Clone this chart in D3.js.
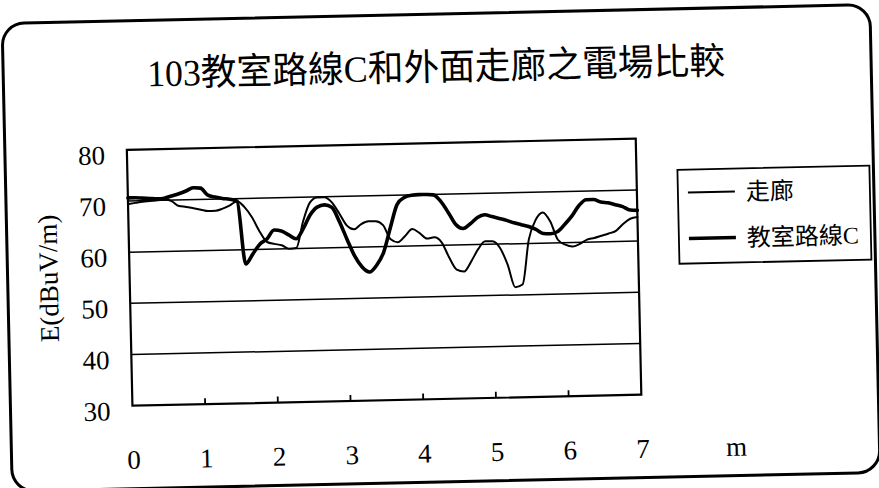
<!DOCTYPE html>
<html>
<head>
<meta charset="utf-8">
<script src="https://cdn.jsdelivr.net/npm/d3@7/dist/d3.min.js"></script>
<style>
  html, body { margin: 0; padding: 0; background: #fff; }
  svg { display: block; }
</style>
</head>
<body>
<svg id="chart" width="879" height="488"></svg>
<script>
// Distance along the measuring path (m)
const distance = [
  0.0, 0.1, 0.2, 0.3, 0.4, 0.5, 0.6, 0.7, 0.8, 0.9,
  1.0, 1.1, 1.2, 1.3, 1.4, 1.5, 1.6, 1.7, 1.8, 1.9,
  2.0, 2.1, 2.2, 2.3, 2.4, 2.5, 2.6, 2.7, 2.8, 2.9,
  3.0, 3.1, 3.2, 3.3, 3.4, 3.5, 3.6, 3.7, 3.8, 3.9,
  4.0, 4.1, 4.2, 4.3, 4.4, 4.5, 4.6, 4.7, 4.8, 4.9,
  5.0, 5.1, 5.2, 5.3, 5.4, 5.5, 5.6, 5.7, 5.8, 5.9,
  6.0, 6.1, 6.2, 6.3, 6.4, 6.5, 6.6, 6.7, 6.8, 6.9,
  7.0
];

// Field strength in the corridor (dBuV/m)
const corridorE = [
  69.4, 69.6, 69.8, 69.9, 70.0, 70.2, 69.8, 68.8, 68.6, 68.3,
  68.0, 67.7, 67.7, 68.1, 68.7, 69.5, 68.3, 66.3, 63.5, 61.4,
  61.0, 60.7, 60.0, 60.1, 65.2, 68.9, 69.9, 69.9, 68.9, 66.7,
  64.3, 63.5, 64.5, 65.0, 65.0, 64.2, 61.4, 60.8, 62.0, 63.3,
  62.5, 61.4, 61.6, 60.6, 57.6, 55.2, 54.8, 56.7, 59.1, 60.6,
  60.6, 59.3, 56.0, 51.5, 52.0, 60.8, 64.6, 66.0, 64.2, 60.6,
  59.6, 59.2, 59.7, 60.5, 60.8, 61.2, 61.6, 62.1, 63.4, 64.4,
  64.7
];

// Field strength along classroom route C (dBuV/m)
const routeCE = [
  70.6, 70.6, 70.5, 70.4, 70.3, 70.4, 70.8, 71.2, 71.7, 72.3,
  72.2, 70.8, 70.4, 70.1, 69.9, 69.5, 57.2, 59.1, 61.0, 62.0,
  63.7, 63.5, 62.7, 61.9, 63.8, 66.5, 68.0, 68.4, 67.9, 65.1,
  61.6, 58.3, 56.1, 55.1, 56.4, 58.9, 63.7, 68.2, 69.5, 69.9,
  70.0, 70.0, 69.9, 68.6, 66.4, 64.0, 63.2, 64.1, 65.3, 65.8,
  65.4, 65.0, 64.6, 64.1, 63.7, 63.3, 62.7, 61.9, 61.8, 62.2,
  63.6, 65.2, 67.2, 68.3, 68.3, 67.8, 67.6, 67.2, 66.8, 66.1,
  66.0
];

const seriesNames = ["走廊", "教室路線C"];
const seriesWidths = [2, 3.6];
const yTicks = [30, 40, 50, 60, 70, 80];
const xTickValues = [0, 1, 2, 3, 4, 5, 6, 7];
const xTickLabels = ["0", "1", "2", "3", "4", "5", "6", "7"];
const xUnit = "m";
const yTitle = "E(dBuV/m)";
const title = "103教室路線C和外面走廊之電場比較";

const serif = "'Liberation Serif', 'Times New Roman', 'Noto Sans CJK TC', serif";
const cjk = "'Liberation Serif', 'Noto Sans CJK TC', sans-serif";

const svg = d3.select("#chart");
// whole sheet sits slightly tilted
const root = svg.append("g").attr("transform", "rotate(-1.25 440 245)");

// outer rounded frame
root.append("rect")
  .attr("x", 7).attr("y", 14).attr("width", 868).attr("height", 468)
  .attr("rx", 22).attr("ry", 22)
  .attr("fill", "none").attr("stroke", "#000").attr("stroke-width", 3);

// title
root.append("text")
  .attr("x", 440).attr("y", 80)
  .attr("text-anchor", "middle")
  .attr("font-family", cjk).attr("font-size", 37)
  .attr("textLength", 578).attr("lengthAdjust", "spacingAndGlyphs")
  .attr("fill", "#000")
  .text(title);

const plot = { left: 129, right: 638, top: 143, bottom: 399 };

const x = d3.scaleLinear().domain([0, 7]).range([plot.left, plot.right]);
const y = d3.scaleLinear().domain([30, 80]).range([plot.bottom, plot.top]);

// horizontal gridlines
root.append("g")
  .selectAll("line")
  .data(yTicks.filter(v => v > 30 && v < 80))
  .join("line")
  .attr("x1", plot.left).attr("x2", plot.right)
  .attr("y1", d => y(d)).attr("y2", d => y(d))
  .attr("stroke", "#000").attr("stroke-width", 1.5);

// plot frame
root.append("rect")
  .attr("x", plot.left).attr("y", plot.top)
  .attr("width", plot.right - plot.left).attr("height", plot.bottom - plot.top)
  .attr("fill", "none").attr("stroke", "#000").attr("stroke-width", 2.2);

// y axis labels
const yAxis = d3.axisLeft(y).tickValues(yTicks).tickSize(0).tickPadding(22);
const gy = root.append("g").attr("transform", `translate(${plot.left},5)`).call(yAxis);
gy.select(".domain").remove();
gy.selectAll("text")
  .attr("font-family", serif).attr("font-size", 27).attr("fill", "#000");

// x axis: small inward ticks and labels
root.append("g")
  .selectAll("line")
  .data(xTickValues.filter(v => v > 0 && v < 7))
  .join("line")
  .attr("x1", d => x(d)).attr("x2", d => x(d))
  .attr("y1", plot.bottom).attr("y2", plot.bottom - 6)
  .attr("stroke", "#000").attr("stroke-width", 1.8);

const xAxis = d3.axisBottom(x).tickValues(xTickValues)
  .tickFormat((d, i) => xTickLabels[i]).tickSize(0).tickPadding(44);
const gx = root.append("g").attr("transform", `translate(0,${plot.bottom})`).call(xAxis);
gx.select(".domain").remove();
gx.selectAll("text")
  .attr("font-family", serif).attr("font-size", 27).attr("fill", "#000");

root.append("text")
  .attr("x", x(7) + 94).attr("y", plot.bottom + 44)
  .attr("dy", "0.71em")
  .attr("text-anchor", "middle")
  .attr("font-family", serif).attr("font-size", 27).attr("fill", "#000")
  .text(xUnit);

// y axis title
root.append("text")
  .attr("transform", "translate(57,270) rotate(-90)")
  .attr("text-anchor", "middle")
  .attr("font-family", serif).attr("font-size", 27).attr("fill", "#000")
  .text(yTitle);

// series lines
const line = d3.line()
  .x((d, i) => x(distance[i]))
  .y(d => y(d))
  .curve(d3.curveMonotoneX);

const seriesData = [corridorE, routeCE];
root.append("g")
  .selectAll("path")
  .data(seriesData)
  .join("path")
  .attr("d", d => line(d))
  .attr("fill", "none")
  .attr("stroke", "#000")
  .attr("stroke-width", (d, i) => seriesWidths[i])
  .attr("stroke-linejoin", "round")
  .attr("stroke-linecap", "round");

// legend
const legend = root.append("g");
legend.append("rect")
  .attr("x", 679).attr("y", 175).attr("width", 192).attr("height", 94)
  .attr("fill", "#fff").attr("stroke", "#000").attr("stroke-width", 1.8);

const legendRows = legend.selectAll("g.row")
  .data(seriesNames)
  .join("g")
  .attr("class", "row")
  .attr("transform", (d, i) => `translate(689,${198 + i * 46})`);

legendRows.append("line")
  .attr("x1", 0).attr("x2", 47).attr("y1", 0).attr("y2", 0)
  .attr("stroke", "#000")
  .attr("stroke-width", (d, i) => seriesWidths[i]);

legendRows.append("text")
  .attr("x", 58).attr("y", 0).attr("dy", "0.36em")
  .attr("font-family", cjk).attr("font-size", 24).attr("fill", "#000")
  .text(d => d);
</script>
</body>
</html>
